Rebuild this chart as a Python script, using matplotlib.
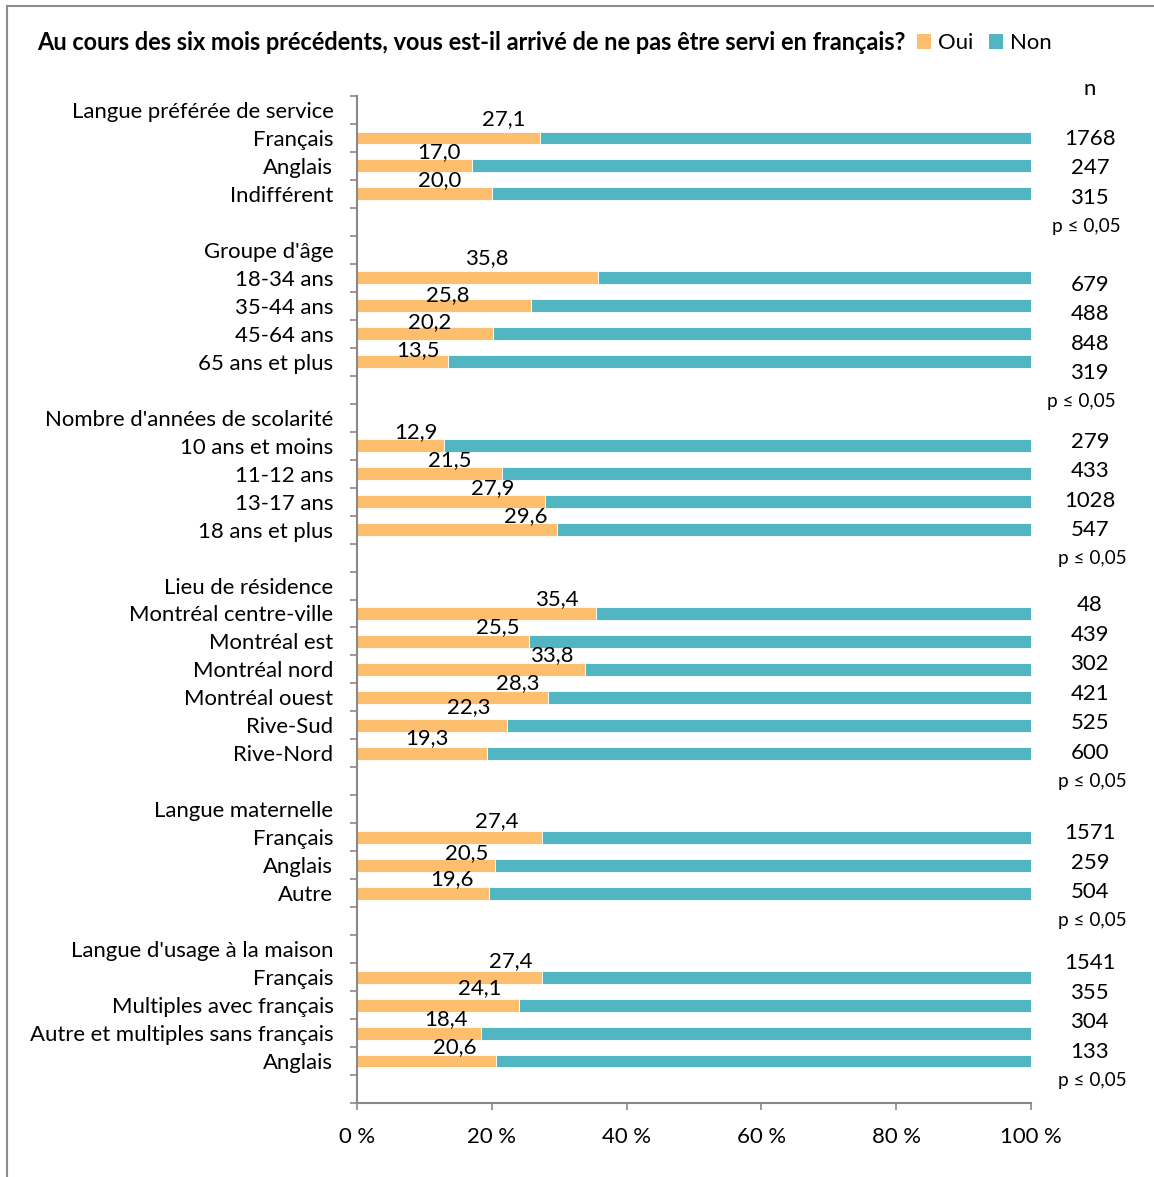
import numpy as np
import matplotlib
matplotlib.use("Agg")
import matplotlib.pyplot as plt
from matplotlib.patches import Patch
from matplotlib.lines import Line2D
from matplotlib.ticker import FixedLocator, FuncFormatter

# ---------------- data ----------------
title = "Au cours des six mois précédents, vous est-il arrivé de ne pas être servi en français?"
series_names = ["Oui", "Non"]
groups = ["Langue préférée de service", "Groupe d'âge", "Nombre d'années de scolarité",
          "Lieu de résidence", "Langue maternelle", "Langue d'usage à la maison"]
cats = [
    ["Français", "Anglais", "Indifférent"],
    ["18-34 ans", "35-44 ans", "45-64 ans", "65 ans et plus"],
    ["10 ans et moins", "11-12 ans", "13-17 ans", "18 ans et plus"],
    ["Montréal centre-ville", "Montréal est", "Montréal nord", "Montréal ouest", "Rive-Sud", "Rive-Nord"],
    ["Français", "Anglais", "Autre"],
    ["Français", "Multiples avec français", "Autre et multiples sans français", "Anglais"],
]
oui = [
    [27.1, 17.0, 20.0],
    [35.8, 25.8, 20.2, 13.5],
    [12.9, 21.5, 27.9, 29.6],
    [35.4, 25.5, 33.8, 28.3, 22.3, 19.3],
    [27.4, 20.5, 19.6],
    [27.4, 24.1, 18.4, 20.6],
]
n_values = [
    [1768, 247, 315],
    [679, 488, 848, 319],
    [279, 433, 1028, 547],
    [48, 439, 302, 421, 525, 600],
    [1571, 259, 504],
    [1541, 355, 304, 133],
]
p_text = ["p ≤ 0,05"] * 6
x_ticks = [0, 20, 40, 60, 80, 100]

# ---------------- styling (label placement offsets) ----------------
label_dx = [  # horizontal offset of the value label from the end of the Oui bar (data units)
    [-5.4, -4.8, -7.8],
    [-16.4, -12.4, -9.4, -4.4],
    [-4.1, -7.7, -7.7, -4.5],
    [-5.6, -4.6, -4.7, -4.4, -5.7, -8.9],
    [-6.6, -4.3, -5.5],
    [-4.6, -5.9, -5.2, -6.1],
]
label_dy_px = [  # label height above bar centre (pixels)
    [19, 14, 14],
    [20, 11, 12, 12],
    [14, 14, 14, 13],
    [14, 14, 14, 14, 18, 15],
    [16, 12, 14],
    [16, 17, 14, 14],
]
n_start_px = [1, 7, -4, -8, -4, -14]     # shift of first n label from its bar (pixels)
n_step_px = 29.5
p_x_px = [1086, 1081, 1092, 1092, 1092, 1092]

C_OUI = "#FDBE6E"
C_NON = "#52B5C2"
GRAY = "#898989"
FAM = ["Lato", "DejaVu Sans"]

W, H = 1154, 1177
fig = plt.figure(figsize=(W / 100, H / 100), dpi=100)
renderer = fig.canvas.get_renderer()


def fit(s, target, weight="normal"):
    t = fig.text(0, 0, s, fontsize=10, family=FAM, weight=weight)
    w = t.get_window_extent(renderer).width
    t.remove()
    return 10 * target / w


FS = fit("Autre et multiples sans français", 304)
FS_T = fit(title, 874, "bold")
FS_P = fit("p ≤ 0,05", 68)

# outer frame
fig.add_artist(Line2D([7 / W, 7 / W], [0, 1 - 6 / H], color="#8c8c8c", lw=1.5))
fig.add_artist(Line2D([7 / W, 1], [1 - 6 / H, 1 - 6 / H], color="#8c8c8c", lw=1.5))

ax_l, ax_r, ax_t, ax_b = 357, 1031, 96, 1103
ax = fig.add_axes([ax_l / W, 1 - ax_b / H, (ax_r - ax_l) / W, (ax_b - ax_t) / H])

# build rows
labels, vals = [], []
row_index = []
for g, cs, vs in zip(groups, cats, oui):
    labels.append(g); vals.append(np.nan)
    idx = []
    for c, v in zip(cs, vs):
        idx.append(len(labels))
        labels.append(c); vals.append(v)
    row_index.append(idx)
    labels.append(""); vals.append(np.nan)
vals = np.array(vals)
y = np.arange(len(labels))
non = 100 - vals

ax.barh(y, vals, height=0.46, color=C_OUI, edgecolor="white", linewidth=0.6, label="Oui")
ax.barh(y, non, left=vals, height=0.46, color=C_NON, edgecolor="white", linewidth=0.6, label="Non")

ax.set_xlim(0, 100)
ax.set_ylim(len(labels) - 0.5, -0.5)
row_px = (ax_b - ax_t) / len(labels)

ax.yaxis.set_major_locator(FixedLocator(y))
ax.set_yticklabels(labels, family=FAM, fontsize=FS)
ax.yaxis.set_minor_locator(FixedLocator(np.arange(len(labels) + 1) - 0.5))
ax.tick_params(axis="y", which="major", length=0, pad=17)
ax.tick_params(axis="y", which="minor", length=5, width=1.2, color=GRAY, direction="out")
ax.xaxis.set_major_locator(FixedLocator(x_ticks))
ax.xaxis.set_major_formatter(FuncFormatter(lambda v, p: f"{int(v)} %"))
ax.tick_params(axis="x", length=5, width=1.2, color=GRAY, pad=12, labelsize=FS)
for lab in ax.get_xticklabels():
    lab.set_family(FAM)

for s in ["top", "right"]:
    ax.spines[s].set_visible(False)
for s in ["left", "bottom"]:
    ax.spines[s].set_color(GRAY)
    ax.spines[s].set_linewidth(1.5)

# value labels
for gi, idx in enumerate(row_index):
    for k, r in enumerate(idx):
        v = oui[gi][k]
        ax.text(v + label_dx[gi][k], r - label_dy_px[gi][k] / row_px,
                f"{v:.1f}".replace(".", ","), ha="center", va="center",
                family=FAM, fontsize=FS)

# n column
px2x = lambda px: (px - ax_l) / (ax_r - ax_l) * 100
n_x = px2x(1090)
ax.text(n_x, -0.5 - 7 / row_px, "n", ha="center", va="center", family=FAM, fontsize=FS, clip_on=False)
for gi, idx in enumerate(row_index):
    y0 = idx[0] + n_start_px[gi] / row_px
    step = n_step_px / row_px
    for k, n in enumerate(n_values[gi]):
        ax.text(n_x, y0 + k * step, str(n), ha="center", va="center",
                family=FAM, fontsize=FS, clip_on=False)
    yp = y0 + (len(n_values[gi]) - 1) * step + 28.5 / row_px
    ax.text(px2x(p_x_px[gi]), yp, p_text[gi], ha="center", va="center",
            family=FAM, fontsize=FS_P, clip_on=False)

# title + legend
fig.text(37 / W, 1 - 43 / H, title, ha="left", va="center", weight="bold", family=FAM, fontsize=FS_T)
handles = [Patch(facecolor=C_OUI), Patch(facecolor=C_NON)]
leg = fig.legend(handles, series_names, ncol=2, loc="center left",
                 bbox_to_anchor=(917 / W, 1 - 43 / H), frameon=False,
                 handlelength=0.65, handleheight=0.65, handletextpad=0.3,
                 columnspacing=0.7, borderpad=0, borderaxespad=0,
                 prop={"family": FAM, "size": FS})

fig.savefig("out.png", dpi=100)
